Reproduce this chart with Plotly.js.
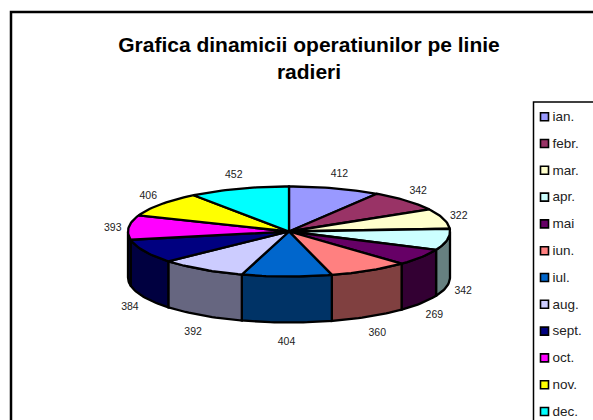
<!DOCTYPE html>
<html><head><meta charset="utf-8">
<script src="https://cdn.plot.ly/plotly-3.0.1.min.js"></script>
<style>html,body{margin:0;padding:0;background:#fff}#c{width:593px;height:420px}</style></head>
<body><div id="c"></div>
<script>
const months = ['ian.','febr.','mar.','apr.','mai','iun.','iul.','aug.','sept.','oct.','nov.','dec.'];
const values = [412,342,322,342,269,360,404,392,384,393,406,452];
const topColors = ['#9999FF','#993366','#FFFFCC','#CCFFFF','#660066','#FF8080','#0066CC','#CCCCFF','#000080','#FF00FF','#FFFF00','#00FFFF'];
const sideColors = ['#4D4D80','#4D1A33','#808066','#668080','#330033','#804040','#003366','#666680','#000040','#000040','#808000','#008080'];
const chartTitle = 'Grafica dinamicii operatiunilor pe linie<br>radieri';

const W=593,H=420;
const cx=289,cy=231.5,rx=161,ry=45,depth=46;
const total=values.reduce((a,b)=>a+b,0);
const rad=d=>d*Math.PI/180;
const px=d=>cx+rx*Math.sin(rad(d));
const py=d=>cy-ry*Math.cos(rad(d));
function arc(a,b){const n=Math.max(2,Math.ceil((b-a)/1.5));const xs=[],ys=[];
  for(let i=0;i<=n;i++){const t=a+(b-a)*i/n;xs.push(px(t));ys.push(py(t));}return [xs,ys];}

const traces=[];const common={type:'scatter',mode:'lines',fill:'toself',hoverinfo:'skip',showlegend:false};
let cum=0;const spans=values.map(v=>{const a=cum/total*360;cum+=v;return [a,cum/total*360];});

spans.forEach(([a,b],i)=>{
  const s=Math.max(a,90),e=Math.min(b,270);
  if(e>s){const [xs,ys]=arc(s,e);
    const xb=xs.slice().reverse(),yb=ys.map(y=>y+depth).reverse();
    traces.push({...common,x:xs.concat(xb,[xs[0]]),y:ys.concat(yb,[ys[0]]),
      fillcolor:sideColors[i],line:{color:'#000',width:2.3}});}
});
spans.forEach(([a,b],i)=>{
  const [xs,ys]=arc(a,b);
  traces.push({...common,x:[cx].concat(xs,[cx]),y:[cy].concat(ys,[cy]),
    fillcolor:topColors[i],line:{color:'#000',width:2.3}});
});
const mids=spans.map(([a,b])=>(a+b)/2);
traces.push({type:'scatter',mode:'text',hoverinfo:'skip',showlegend:false,
  x:mids.map(m=>cx+177*Math.sin(rad(m))),
  y:mids.map(m=>cy+2.5-62*Math.cos(rad(m))+(Math.cos(rad(m))<0?depth:0)),
  text:values.map(String),textposition:'middle center',
  textfont:{family:'Liberation Sans, Arial, sans-serif',size:10.5,color:'#222'}});
const rowY=months.map((m,i)=>116.7+i*26.8);
traces.push({type:'scatter',mode:'markers',hoverinfo:'skip',showlegend:false,
  x:months.map(()=>544.5),y:rowY,
  marker:{symbol:'square',size:8,color:topColors,line:{color:'#000',width:1.6}}});
traces.push({type:'scatter',mode:'text',hoverinfo:'skip',showlegend:false,
  x:months.map(()=>552.5),y:rowY.map(y=>y+1),
  text:months,textposition:'middle right',
  textfont:{family:'Liberation Sans, Arial, sans-serif',size:13.5,color:'#222'}});

Plotly.newPlot('c',traces,{
  width:W,height:H,margin:{l:0,r:0,t:0,b:0},paper_bgcolor:'#fff',plot_bgcolor:'#fff',showlegend:false,
  xaxis:{range:[0,W],visible:false,fixedrange:true},
  yaxis:{range:[H,0],visible:false,fixedrange:true},
  title:{text:chartTitle,
    font:{family:'Liberation Sans, Arial, sans-serif',size:21,color:'#000',weight:700},
    x:309/W,xanchor:'center',y:1-52/H,yanchor:'top'},
  shapes:[
    {type:'rect',xref:'x',yref:'y',x0:11,y0:12,x1:W+20,y1:H+20,line:{color:'#000',width:2.5},fillcolor:'rgba(0,0,0,0)',layer:'below'},
    {type:'rect',xref:'x',yref:'y',x0:533.5,y0:102,x1:W+20,y1:H+20,line:{color:'#000',width:1.5},fillcolor:'rgba(0,0,0,0)',layer:'below'}
  ]
},{staticPlot:true,displayModeBar:false});
</script></body></html>
